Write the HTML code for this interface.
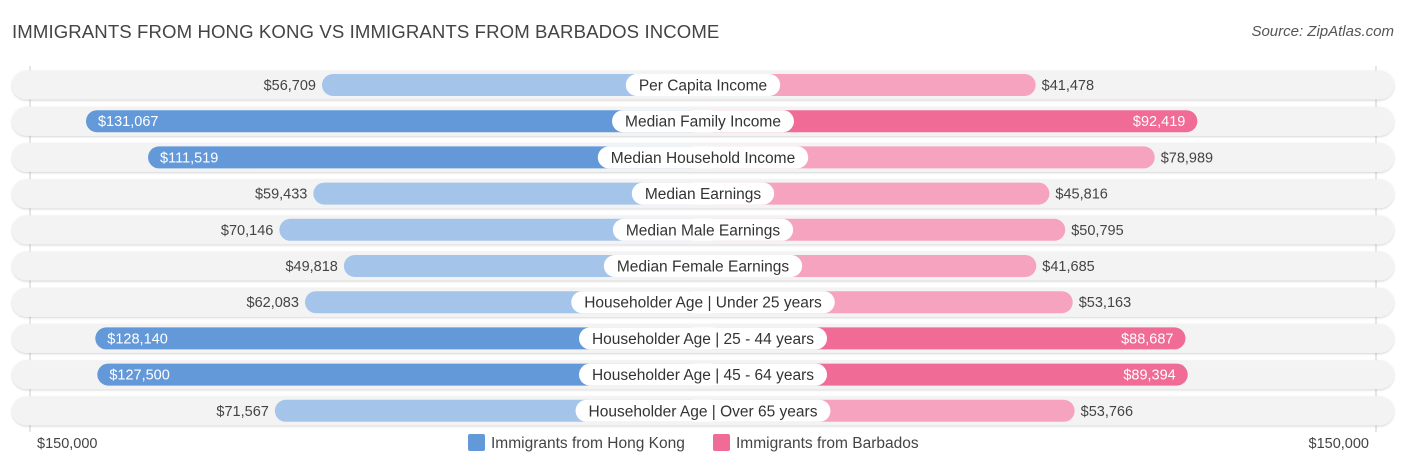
<!DOCTYPE html>
<html><head><meta charset="utf-8"><style>
body{margin:0;background:#fff;font-family:"Liberation Sans",sans-serif;}
#wrap{position:relative;width:1406px;height:467px;overflow:hidden;}
.title{position:absolute;left:12px;top:21px;font-size:18.6px;color:#444;letter-spacing:0.1px}
.src{position:absolute;right:12px;top:23px;font-size:15px;color:#555;font-style:italic}
</style></head><body>
<div id="wrap">
<div class="title">IMMIGRANTS FROM HONG KONG VS IMMIGRANTS FROM BARBADOS INCOME</div>
<div class="src">Source: ZipAtlas.com</div>
<svg id="svg" width="1406" height="467" style="position:absolute;left:0;top:0"></svg>
</div>
<script>
const categories=["Per Capita Income","Median Family Income","Median Household Income","Median Earnings","Median Male Earnings","Median Female Earnings","Householder Age | Under 25 years","Householder Age | 25 - 44 years","Householder Age | 45 - 64 years","Householder Age | Over 65 years"];
const hongKong=[56709,131067,111519,59433,70146,49818,62083,128140,127500,71567];
const barbados=[41478,92419,78989,45816,50795,41685,53163,88687,89394,53766];
const axisLabels=["$150,000","$150,000"];
const NS="http://www.w3.org/2000/svg";
const svg=document.getElementById('svg');
const cx=703;
function w(v){return 201+v*0.003174;}
function yc(i){return 85+i*36.2;}
function mk(t,a,p){const e=document.createElementNS(NS,t);for(const k in a)e.setAttribute(k,a[k]);(p||svg).appendChild(e);return e;}
const defs=mk('defs',{});
const f=mk('filter',{id:'sh',x:'-5%',y:'-50%',width:'110%',height:'200%'},defs);
mk('feDropShadow',{dx:0,dy:1,stdDeviation:1,'flood-color':'#000','flood-opacity':0.18},f);
mk('line',{x1:30,x2:30,y1:66,y2:432,stroke:'#ccc','stroke-width':1});
mk('line',{x1:1376,x2:1376,y1:66,y2:432,stroke:'#ccc','stroke-width':1});
function fmt(v){return '$'+v.toLocaleString('en-US');}
categories.forEach((c,i)=>{
  const y=yc(i);
  const bg=mk('rect',{x:12,y:y-14.5,width:1382,height:29,rx:14.5,fill:'#f3f3f3',filter:'url(#sh)'});
  
  
  const hv=hongKong[i],bv=barbados[i];
  const hs=hv>100000,bs=bv>80000;
  const lw=w(hv),rw=w(bv);
  const lb=mk('rect',{x:cx-lw,y:y-11,width:lw,height:22,rx:11,fill:hs?'#6399d9':'#a4c4e9'});
  
  
  const rb=mk('rect',{x:cx,y:y-11,width:rw,height:22,rx:11,fill:bs?'#f06b96':'#f5a3bf'});
  
  
  const lt=mk('text',{x:hs?cx-lw+12:cx-lw-6,y:y+5,'font-size':14.5,fill:hs?'#fff':'#444','text-anchor':hs?'start':'end'});
  lt.textContent=fmt(hv);
  
  
  const rt=mk('text',{x:bs?cx+rw-12:cx+rw+6,y:y+5,'font-size':14.5,fill:bs?'#fff':'#444','text-anchor':bs?'end':'start'});
  rt.textContent=fmt(bv);
  
  
  const pill=mk('rect',{x:cx,y:y-11,width:10,height:22,rx:11,fill:'#fff'});
  
  
  const ct=mk('text',{x:cx,y:y+5.5,'font-size':15.5,fill:'#333','text-anchor':'middle'});
  ct.textContent=c;
  
  
  const tw=ct.getComputedTextLength()+26;
  pill.setAttribute('x',cx-tw/2);
  pill.setAttribute('width',tw);
});
const a1=mk('text',{x:37,y:448,'font-size':14.5,fill:'#444'});a1.textContent=axisLabels[0];


const a2=mk('text',{x:1369,y:448,'font-size':14.5,fill:'#444','text-anchor':'end'});a2.textContent=axisLabels[1];


const l1=mk('rect',{x:468,y:434,width:17,height:17,rx:2,fill:'#6399d9'});


const t1=mk('text',{x:491,y:448,'font-size':15.5,fill:'#444'});t1.textContent='Immigrants from Hong Kong';


const l2=mk('rect',{x:713,y:434,width:17,height:17,rx:2,fill:'#f06b96'});


const t2=mk('text',{x:736,y:448,'font-size':15.5,fill:'#444'});t2.textContent='Immigrants from Barbados';


</script>
</body></html>
